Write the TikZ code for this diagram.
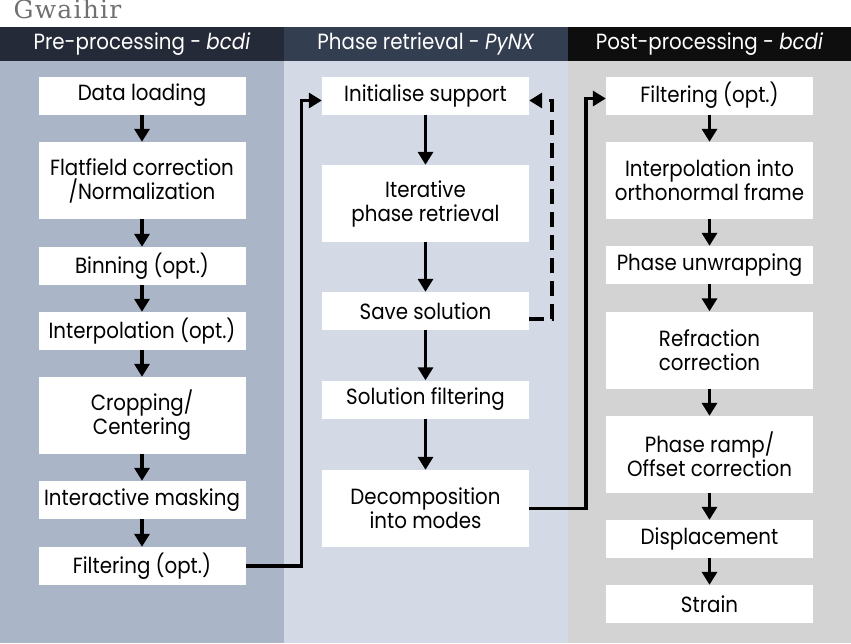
\documentclass[tikz,border=0pt]{standalone}
\usepackage{fontspec}
\setmainfont[FakeStretch=0.9]{Poppins}
\newfontfamily\titlefont[LetterSpace=5]{DejaVu Serif}
\usetikzlibrary{arrows.meta}
\definecolor{preHead}{HTML}{242A37}
\definecolor{preBody}{HTML}{ABB5C8}
\definecolor{phaseHead}{HTML}{343E51}
\definecolor{phaseBody}{HTML}{D4DAE5}
\definecolor{postHead}{HTML}{0E0E0E}
\definecolor{postBody}{HTML}{D3D3D3}
\definecolor{titleGray}{HTML}{707070}
\tikzset{
stepbox/.style={fill=white,minimum width=207pt,minimum height=38pt,inner sep=0pt,align=center,font=\fontsize{22}{24}\selectfont},
tallbox/.style={stepbox,minimum height=77pt},
flow/.style={line width=3.5pt,-{Triangle[width=15pt,length=13pt]}},
lanehead/.style={text=white,font=\fontsize{22}{24}\selectfont}
}
\providecommand{\Step}[3]{
\node[stepbox] (#1) at (#2) {#3};
}
\providecommand{\TallStep}[3]{
\node[tallbox] (#1) at (#2) {#3};
}
\providecommand{\Lane}[6]{
\fill[#2] (#4,27) rectangle (#5,61);
\fill[#3] (#4,61) rectangle (#5,643);
\node[lanehead] (#1) at ({(#4+#5)/2},44) {#6};
}

\begin{document}
\begin{tikzpicture}[x=1pt,y=-1pt]
\useasboundingbox (0,0) rectangle (851,643);
\node[anchor=base west,text=titleGray,font=\titlefont\fontsize{25}{25}\selectfont] (title) at (10,18.5) {Gwaihir};
\Lane{prehead}{preHead}{preBody}{0}{284}{Pre-processing - \textit{bcdi}}
\Lane{phasehead}{phaseHead}{phaseBody}{284}{568}{Phase retrieval - \textit{PyNX}}
\Lane{posthead}{postHead}{postBody}{568}{851}{Post-processing - \textit{bcdi}}
\Step{load}{142,95.5}{Data loading}\TallStep{flat}{142,180.5}{Flatfield correction\\/Normalization}
\Step{bin}{142,266}{Binning (opt.)}\Step{interp}{142,331}{Interpolation (opt.)}
\TallStep{crop}{142,415.5}{Cropping/\\Centering}\Step{mask}{142,500}{Interactive masking}
\Step{prefilt}{142,566}{Filtering (opt.)}
\Step{init}{425.5,95.5}{Initialise support}\TallStep{iter}{425.5,203.5}{Iterative\\phase retrieval}
\Step{save}{425.5,311}{Save solution}\Step{solfilt}{425.5,399.5}{Solution filtering}
\TallStep{modes}{425.5,508.5}{Decomposition\\into modes}
\Step{postfilt}{709.5,95.5}{Filtering (opt.)}\TallStep{ortho}{709.5,180.5}{Interpolation into\\orthonormal frame}
\Step{unwrap}{709.5,265}{Phase unwrapping}\TallStep{refr}{709.5,350}{Refraction\\correction}
\TallStep{ramp}{709.5,454.5}{Phase ramp/\\Offset correction}\Step{disp}{709.5,539}{Displacement}
\Step{strain}{709.5,604}{Strain}
\foreach \a/\b in {load/flat,flat/bin,bin/interp,interp/crop,crop/mask,mask/prefilt,init/iter,iter/save,save/solfilt,solfilt/modes,postfilt/ortho,ortho/unwrap,unwrap/refr,refr/ramp,ramp/disp,disp/strain}
  \draw[flow] (\a.south) -- (\b.north);
\draw[flow] (prefilt.east) -- ++(56,0) |- ([yshift=-5pt]init.west);
\draw[flow,dash pattern=on 15pt off 8pt] ([yshift=-8pt]save.east) -- ++(23,0) |- ([yshift=-5pt]init.east);
\draw[flow] (modes.east) -- ++(57,0) |- ([yshift=-3pt]postfilt.west);
\end{tikzpicture}
\end{document}
